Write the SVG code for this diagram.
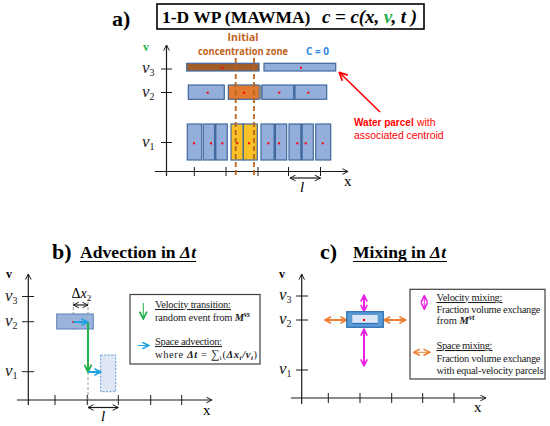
<svg xmlns="http://www.w3.org/2000/svg" width="550" height="426" viewBox="0 0 550 426">
<defs>
<style>
.ser{font-family:"Liberation Serif","Times New Roman",serif}
.sans{font-family:"Open Sans","Liberation Sans",sans-serif}
.ls{font-family:"Liberation Sans",Arial,sans-serif}
.ax{stroke:#1a1a1a;stroke-width:1.2;fill:none}
.tk{stroke:#1a1a1a;stroke-width:1}
.p{fill:#93aedb;stroke:#41699e;stroke-width:1.2}
.strip{stroke:#41699e;stroke-width:2.5}
.dot{fill:#ff0000}
.dz{stroke:#b5651d;stroke-width:1.8;stroke-dasharray:5,3;fill:none}
.vl{font-family:"Liberation Serif",serif;font-style:italic;font-size:17px;fill:#1a1a1a}
.sub{font-size:10px;font-style:normal}
.lg{font-family:"Liberation Serif",serif;font-size:10.5px;fill:#1a1a1a}
.box{fill:#fff;stroke:#404040;stroke-width:1.2}
</style>
<marker id="ah" viewBox="0 0 10 10" refX="9" refY="5" markerWidth="7" markerHeight="7" orient="auto-start-reverse" markerUnits="userSpaceOnUse"><path d="M1,1 L9,5 L1,9" fill="none" stroke="#1a1a1a" stroke-width="1.4"/></marker>
<marker id="ag" viewBox="0 0 10 10" refX="8" refY="5" markerWidth="9" markerHeight="9" orient="auto-start-reverse" markerUnits="userSpaceOnUse"><path d="M1,1 L9,5 L1,9" fill="none" stroke="#22b14c" stroke-width="2"/></marker>
<marker id="ac" viewBox="0 0 10 10" refX="8" refY="5" markerWidth="8" markerHeight="8" orient="auto-start-reverse" markerUnits="userSpaceOnUse"><path d="M1,1 L9,5 L1,9" fill="none" stroke="#1ca3e0" stroke-width="2"/></marker>
<marker id="am" viewBox="0 0 10 10" refX="8" refY="5" markerWidth="8" markerHeight="8" orient="auto-start-reverse" markerUnits="userSpaceOnUse"><path d="M1,1 L9,5 L1,9" fill="none" stroke="#e81ee0" stroke-width="2"/></marker>
<marker id="ao" viewBox="0 0 10 10" refX="8" refY="5" markerWidth="8" markerHeight="8" orient="auto-start-reverse" markerUnits="userSpaceOnUse"><path d="M1,1 L9,5 L1,9" fill="none" stroke="#ed7d31" stroke-width="2"/></marker>
<marker id="ar" viewBox="0 0 10 10" refX="8" refY="5" markerWidth="10" markerHeight="10" orient="auto" markerUnits="userSpaceOnUse"><path d="M1,1 L9,5 L1,9" fill="none" stroke="#ff0000" stroke-width="1.8"/></marker>
</defs>
<rect width="550" height="426" fill="#fff"/>

<!-- Panel a -->
<g id="panel-a-title">
<text x="112" y="26" class="ser" font-weight="bold" font-size="22">a)</text>
<rect x="157" y="4" width="267" height="25" fill="#fff" stroke="#000" stroke-width="1.6"/>
<text x="162" y="23" class="ser" font-weight="bold" font-size="17.5">1-D WP (MAWMA)</text>
<text x="322" y="23" class="ser" font-weight="bold" font-style="italic" font-size="19" textLength="95">c = c(x, <tspan fill="#1fb04c">v</tspan>, t )</text>
</g>
<g id="axes-a">
<path class="ax" d="M166.5,176 V45" marker-end="url(#ah)"/>
<path class="ax" d="M155,171.5 H348" marker-end="url(#ah)"/>
<path class="tk" d="M161,69 H172 M161,92.5 H172 M161,142.5 H172 M194.3,167 V176 M226,167 V176 M258,167 V176 M288.5,167 V176 M320.5,167 V176"/>
<text x="143" y="51" class="ser" font-weight="bold" font-size="12" fill="#1fb04c">v</text>
<text x="142" y="73" class="vl">v<tspan class="sub" dy="3">3</tspan></text>
<text x="142" y="96.5" class="vl">v<tspan class="sub" dy="3">2</tspan></text>
<text x="142" y="146.5" class="vl">v<tspan class="sub" dy="3">1</tspan></text>
<path class="ax" d="M290,178 H320.5" marker-start="url(#ah)" marker-end="url(#ah)" stroke-width="0.9"/>
<text x="300" y="192" class="ser" font-style="italic" font-size="15">l</text>
<text x="344" y="186" class="ser" font-size="15">x</text>
</g>
<g id="row-v3">
<rect x="186.7" y="63.3" width="72.3" height="7.7" fill="#a25e2a" stroke="#41699e" stroke-width="1.2"/>
<rect class="p" x="264" y="63.3" width="71.7" height="7.7"/>
<rect class="dot" x="221.3" y="66.7" width="2" height="2"/>
<rect class="dot" x="300" y="66.7" width="2" height="2"/>
</g>
<g id="row-v2">
<rect class="p" x="188.3" y="85" width="36" height="14.3"/>
<rect x="228.3" y="85" width="31" height="14.3" fill="#e27b2f" stroke="#41699e" stroke-width="1.2"/>
<rect x="259.3" y="85" width="2.6" height="14.3" fill="#8c8c8c"/>
<rect class="p" x="262" y="85" width="64.7" height="14.3"/>
<line class="strip" x1="294.3" y1="85" x2="294.3" y2="99.3"/>
<rect class="dot" x="206.7" y="91.7" width="2" height="2"/>
<rect class="dot" x="243" y="91.7" width="2" height="2"/>
<rect class="dot" x="278.3" y="91.7" width="2" height="2"/>
<rect class="dot" x="307.3" y="91.7" width="2" height="2"/>
</g>
<g id="row-v1">
<rect class="p" x="187.3" y="124" width="14.4" height="36"/>
<rect class="p" x="203.3" y="124" width="24" height="36"/>
<line class="strip" x1="215.2" y1="124" x2="215.2" y2="160"/>
<rect x="231" y="124" width="12.3" height="36" fill="#f9c125" stroke="#41699e" stroke-width="1.2"/>
<rect x="243.3" y="124" width="14" height="36" fill="#f9c125" stroke="#41699e" stroke-width="1.2"/>
<rect class="p" x="261" y="124" width="25.7" height="36"/>
<line class="strip" x1="274.8" y1="124" x2="274.8" y2="160"/>
<rect class="p" x="289" y="124" width="24.3" height="36"/>
<line class="strip" x1="301.5" y1="124" x2="301.5" y2="160"/>
<rect class="p" x="315.7" y="124" width="15" height="36"/>
<rect class="dot" x="193" y="142.3" width="2" height="2"/>
<rect class="dot" x="210" y="142.3" width="2" height="2"/>
<rect class="dot" x="221.3" y="142.3" width="2" height="2"/>
<rect class="dot" x="236.3" y="142.3" width="2" height="2"/>
<rect class="dot" x="248" y="142.3" width="2" height="2"/>
<rect class="dot" x="267.3" y="142.3" width="2" height="2"/>
<rect class="dot" x="278" y="142.3" width="2" height="2"/>
<rect class="dot" x="296.3" y="142.3" width="2" height="2"/>
<rect class="dot" x="304.7" y="142.3" width="2" height="2"/>
<rect class="dot" x="321.7" y="142.3" width="2" height="2"/>
</g>
<g id="initial-zone">
<path class="dz" d="M235.7,58 V175 M254,58 V175"/>
<text x="243" y="41" class="sans" font-weight="bold" font-size="10.5" fill="#c0621d" text-anchor="middle">Initial</text>
<text x="243" y="55" class="sans" font-weight="bold" font-size="10.5" fill="#c0621d" text-anchor="middle" textLength="90" lengthAdjust="spacingAndGlyphs">concentration zone</text>
<text x="306" y="55" class="sans" font-weight="bold" font-size="10.5" fill="#2e86de" textLength="23" lengthAdjust="spacingAndGlyphs">C = 0</text>
</g>
<g id="water-parcel-label">
<line x1="380" y1="112" x2="340" y2="73" stroke="#ff0000" stroke-width="1.6" marker-end="url(#ar)"/>
<text x="354" y="126" class="ls" font-size="10" font-weight="bold" fill="#ff0000">Water parcel</text>
<text x="417" y="126" class="ls" font-size="10.4" fill="#ff0000">with</text>
<text x="354" y="139" class="ls" font-size="10.4" fill="#ff0000">associated centroid</text>
</g>

<!-- Panel b -->
<g id="panel-b-title">
<text x="52" y="259" class="ser" font-weight="bold" font-size="22">b)</text>
<text x="80" y="258" class="ser" font-weight="bold" font-size="17.5" textLength="116">Advection in <tspan font-style="italic">Δt</tspan></text>
<line x1="80" y1="261.5" x2="196" y2="261.5" stroke="#000" stroke-width="1.2"/>
</g>
<g id="axes-b">
<path class="ax" d="M28.3,405 V274" marker-end="url(#ah)"/>
<path class="ax" d="M17,400 H212" marker-end="url(#ah)"/>
<path class="tk" d="M22,296.5 H34 M22,321.7 H34 M22,371.7 H34 M55,395 V405 M87.3,395 V405 M118.3,395 V405 M150.7,395 V405 M181.7,395 V405"/>
<text x="6" y="278" class="ser" font-weight="bold" font-size="12">v</text>
<text x="5" y="300.5" class="vl">v<tspan class="sub" dy="3">3</tspan></text>
<text x="5" y="325.7" class="vl">v<tspan class="sub" dy="3">2</tspan></text>
<text x="5" y="375.7" class="vl">v<tspan class="sub" dy="3">1</tspan></text>
<path class="ax" d="M88,407.5 H118.3" marker-start="url(#ah)" marker-end="url(#ah)" stroke-width="0.9"/>
<text x="101" y="421" class="ser" font-style="italic" font-size="15">l</text>
<text x="203" y="415" class="ser" font-size="15">x</text>
</g>
<g id="advection-parcels">
<path d="M73.3,302 V330 M88,302 V400" stroke="#8a8a8a" stroke-width="0.9" stroke-dasharray="3,2" fill="none"/>
<rect x="56.7" y="314" width="36.6" height="15" fill="#9bb2da" stroke="#5b80b8" stroke-width="1"/>
<rect x="100.7" y="355" width="15" height="36.7" fill="#dfe7f4" stroke="#5b9bd5" stroke-width="1" stroke-dasharray="2,1.5"/>
<rect class="dot" x="72.3" y="321" width="2" height="2"/>
<text x="71.5" y="298" class="ser" font-size="14">Δ<tspan font-style="italic">x</tspan><tspan font-size="9" dy="2.5">2</tspan></text>
<path class="ax" d="M73.3,305 H88" marker-start="url(#ah)" marker-end="url(#ah)" stroke-width="0.8"/>
</g>
<g id="connectors">
<line x1="88" y1="322" x2="88" y2="371" stroke="#22b14c" stroke-width="2" marker-end="url(#ag)"/>
<line x1="73.3" y1="322" x2="87" y2="322" stroke="#1ca3e0" stroke-width="2" marker-end="url(#ac)"/>
<line x1="88" y1="372" x2="100" y2="372" stroke="#1ca3e0" stroke-width="2" marker-end="url(#ac)"/>
<line x1="364" y1="296" x2="364" y2="310.5" stroke="#e81ee0" stroke-width="2" marker-start="url(#am)" marker-end="url(#am)"/>
<line x1="364" y1="330" x2="364" y2="365" stroke="#e81ee0" stroke-width="2" marker-start="url(#am)" marker-end="url(#am)"/>
<line x1="325.5" y1="320" x2="346" y2="320" stroke="#ed7d31" stroke-width="2" marker-start="url(#ao)" marker-end="url(#ao)"/>
<line x1="384.5" y1="320" x2="405" y2="320" stroke="#ed7d31" stroke-width="2" marker-start="url(#ao)" marker-end="url(#ao)"/>
</g>
<g id="legend-b">
<rect class="box" x="130" y="294.5" width="130" height="69.5"/>
<line x1="143.3" y1="303" x2="143.3" y2="318" stroke="#22b14c" stroke-width="1" marker-end="url(#ag)"/>
<text x="155" y="308" class="lg" text-decoration="underline" textLength="76">Velocity transition:</text>
<text x="155" y="321" class="lg" textLength="95">random event from <tspan font-weight="bold" font-style="italic">M</tspan><tspan font-weight="bold" font-style="italic" font-size="7.5" dy="-4">vs</tspan></text>
<line x1="138" y1="345.5" x2="148" y2="345.5" stroke="#1ca3e0" stroke-width="1" marker-end="url(#ac)"/>
<text x="155" y="345" class="lg" text-decoration="underline" textLength="67">Space advection:</text>
<text x="155" y="357.5" class="lg" textLength="102">where <tspan font-weight="bold" font-style="italic">Δt</tspan> = <tspan font-size="12">∑</tspan><tspan font-size="7" dy="2">i</tspan><tspan dy="-2">(</tspan><tspan font-weight="bold" font-style="italic">Δx<tspan font-size="7" dy="2">i</tspan><tspan dy="-2">/</tspan>v<tspan font-size="7" dy="2">i</tspan></tspan><tspan dy="-2">)</tspan></text>
</g>

<!-- Panel c -->
<g id="panel-c-title">
<text x="320" y="259" class="ser" font-weight="bold" font-size="22">c)</text>
<text x="353" y="258" class="ser" font-weight="bold" font-size="17.5" textLength="93">Mixing in <tspan font-style="italic">Δt</tspan></text>
<line x1="353" y1="261.5" x2="447" y2="261.5" stroke="#000" stroke-width="1.2"/>
</g>
<g id="axes-c">
<path class="ax" d="M301.7,404 V274" marker-end="url(#ah)"/>
<path class="ax" d="M291,398 H486" marker-end="url(#ah)"/>
<path class="tk" d="M296,296 H308 M296,320 H308 M296,370 H308 M328.3,393 V403 M360,393 V403 M391.7,393 V403 M422.7,393 V403 M454,393 V403"/>
<text x="279" y="278" class="ser" font-weight="bold" font-size="12">v</text>
<text x="279" y="300" class="vl">v<tspan class="sub" dy="3">3</tspan></text>
<text x="279" y="324" class="vl">v<tspan class="sub" dy="3">2</tspan></text>
<text x="279" y="374" class="vl">v<tspan class="sub" dy="3">1</tspan></text>
<text x="474" y="412" class="ser" font-size="15">x</text>
</g>
<g id="mixing-parcel">
<rect x="346.7" y="311.7" width="36.6" height="15.6" fill="#5b9bd5" stroke="#2e6db4" stroke-width="1.2"/>
<rect x="352.3" y="315" width="25.4" height="8.5" fill="#dde6f4"/>
<line x1="352.3" y1="323.5" x2="377.7" y2="323.5" stroke="#2e6db4" stroke-width="1.2"/>
<rect class="dot" x="363" y="319" width="2" height="2"/>
</g>
<g id="legend-c">
<rect class="box" x="410" y="289.3" width="135" height="89.7"/>
<line x1="424.3" y1="296.5" x2="424.3" y2="308.3" stroke="#e81ee0" stroke-width="1" marker-start="url(#am)" marker-end="url(#am)"/>
<text x="436.5" y="301" class="lg" text-decoration="underline" textLength="66">Velocity mixing:</text>
<text x="436.5" y="312.5" class="lg" textLength="104">Fraction volume exchange</text>
<text x="436.5" y="324" class="lg">from <tspan font-weight="bold" font-style="italic">M</tspan><tspan font-weight="bold" font-style="italic" font-size="7.5" dy="-4">vt</tspan></text>
<line x1="414.3" y1="352.3" x2="429" y2="352.3" stroke="#ed7d31" stroke-width="1" marker-start="url(#ao)" marker-end="url(#ao)"/>
<text x="436.5" y="349" class="lg" text-decoration="underline" textLength="56">Space mixing:</text>
<text x="436.5" y="362" class="lg" textLength="104">Fraction volume exchange</text>
<text x="436.5" y="374" class="lg" textLength="107">with equal-velocity parcels</text>
</g>
</svg>
